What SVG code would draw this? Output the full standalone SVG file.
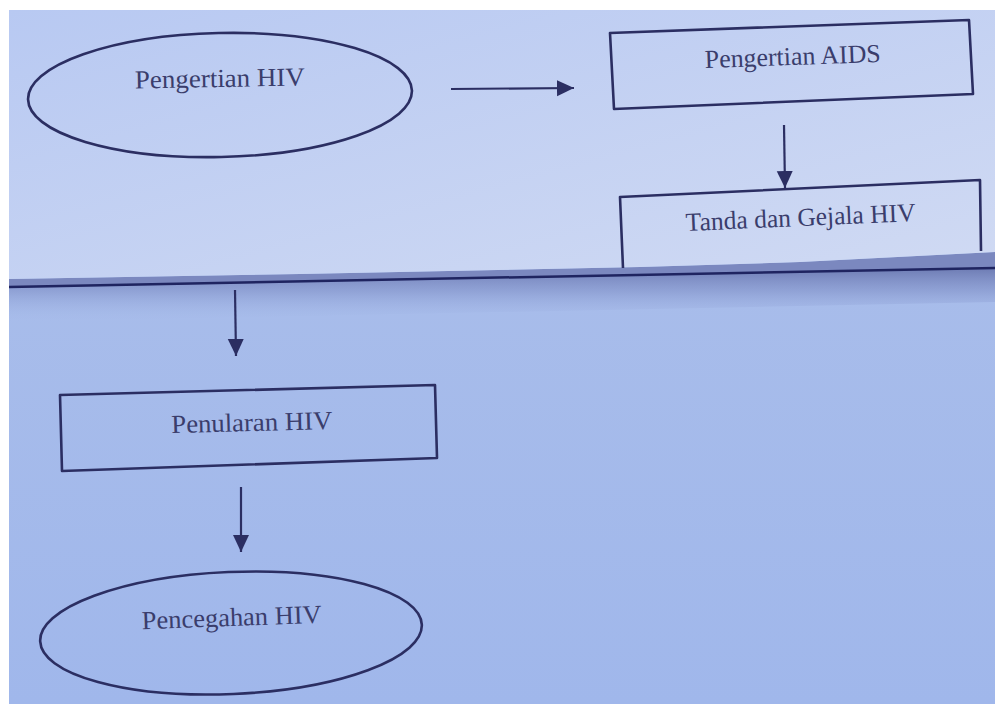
<svg xmlns="http://www.w3.org/2000/svg" width="995" height="704" viewBox="0 0 995 704">
<style>
.shape{fill:none;stroke:#2b2e62;stroke-width:2.6;stroke-linejoin:round}
.conn{stroke:#2b2e62;stroke-width:2.2;fill:none}
.lbl{font-family:"Liberation Serif","DejaVu Serif",serif;font-size:26px;fill:#3a3d6c;text-anchor:middle}
</style>
<defs>
<marker id="ah" markerUnits="userSpaceOnUse" markerWidth="18" markerHeight="18" refX="17" refY="8" orient="auto">
<path d="M0,0 L17,8 L0,16 z" fill="#2b2e62"/>
</marker>
<linearGradient id="upper" x1="0" y1="0" x2="1" y2="1">
<stop offset="0" stop-color="#b8c9f2"/>
<stop offset="1" stop-color="#d0daf3"/>
</linearGradient>
<linearGradient id="lower" x1="0" y1="0" x2="0" y2="1">
<stop offset="0" stop-color="#adc0ea"/>
<stop offset="1" stop-color="#a0b7eb"/>
</linearGradient>
<linearGradient id="shadow" x1="0" y1="0" x2="0" y2="1">
<stop offset="0" stop-color="#56619c" stop-opacity="0.85"/>
<stop offset="0.5" stop-color="#7685bf" stop-opacity="0.45"/>
<stop offset="1" stop-color="#a6baea" stop-opacity="0"/>
</linearGradient>
</defs>
<rect x="0" y="0" width="995" height="704" fill="#ffffff"/>
<rect x="9" y="10" width="986" height="694" fill="url(#lower)"/>
<polygon points="9,281 995,262 995,302 9,322" fill="url(#shadow)"/>
<polygon points="9,279 300,274 640,267 800,262 995,252 995,268 9,288" fill="#7b88bf"/>
<polygon points="9,10 995,10 995,252 800,262 640,267 300,274 9,279" fill="url(#upper)"/>
<line x1="9" y1="287" x2="995" y2="268" stroke="#1f2460" stroke-width="2.5"/>

<g id="connectors">
<line class="conn" x1="451" y1="89" x2="574" y2="88" marker-end="url(#ah)"/>
<line class="conn" x1="784" y1="125" x2="785" y2="188" marker-end="url(#ah)"/>
<line class="conn" x1="235" y1="290" x2="236" y2="356" marker-end="url(#ah)"/>
<line class="conn" x1="241" y1="487" x2="241" y2="552" marker-end="url(#ah)"/>
</g>

<g id="pengertian-hiv">
<ellipse class="shape" cx="220" cy="95" rx="192" ry="62" transform="rotate(-1.3 220 95)"/>
<text class="lbl" x="220" y="87" textLength="170" lengthAdjust="spacingAndGlyphs" transform="rotate(-1 220 87)">Pengertian HIV</text>
</g>

<g id="pengertian-aids">
<polygon class="shape" points="610,33 969,20 973,94 614,109"/>
<text class="lbl" x="793" y="65" textLength="176" lengthAdjust="spacingAndGlyphs" transform="rotate(-2 793 65)">Pengertian AIDS</text>
</g>

<g id="tanda-gejala">
<path class="shape" d="M623,268 L620,197 L980,180 L981,251"/>
<text class="lbl" x="801" y="226" textLength="230" lengthAdjust="spacingAndGlyphs" transform="rotate(-2.5 801 226)">Tanda dan Gejala HIV</text>
</g>

<g id="penularan">
<polygon class="shape" points="60,395 435,385 437,458 62,471"/>
<text class="lbl" x="252" y="431" textLength="161" lengthAdjust="spacingAndGlyphs" transform="rotate(-1.5 252 431)">Penularan HIV</text>
</g>

<g id="pencegahan">
<ellipse class="shape" cx="231" cy="633" rx="191" ry="61" transform="rotate(-2.5 231 633)"/>
<text class="lbl" x="232" y="626" textLength="180" lengthAdjust="spacingAndGlyphs" transform="rotate(-2 232 626)">Pencegahan HIV</text>
</g>
</svg>
